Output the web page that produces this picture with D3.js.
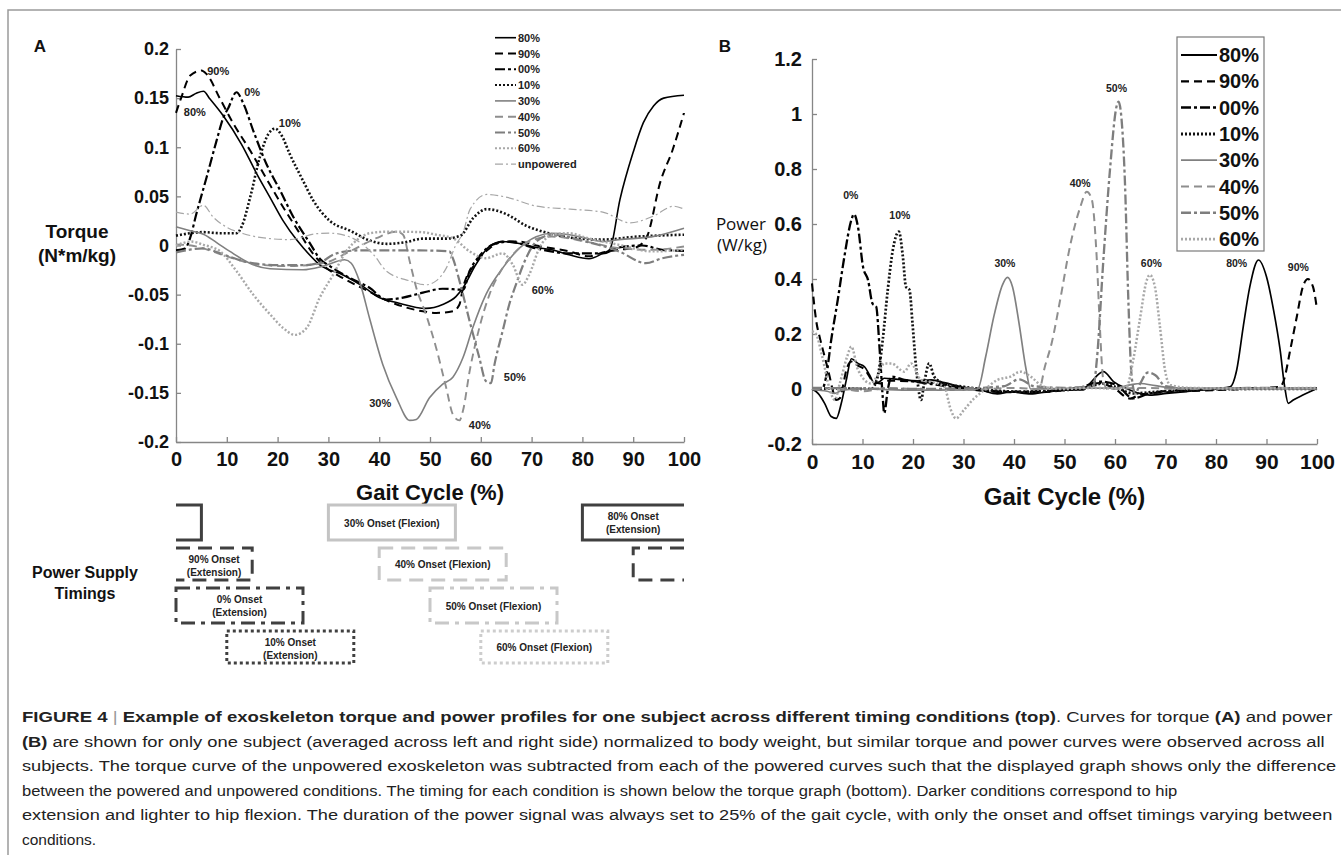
<!DOCTYPE html>
<html lang="en">
<head>
  <meta charset="UTF-8">
  <title>Figure 4</title>
  <script src="https://cdn.jsdelivr.net/npm/d3@7"></script>
  <style>
    body {
      margin: 0;
      background: #fff;
      overflow: hidden;
    }

    svg {
      font-family: "Liberation Sans", Arial, sans-serif;
    }

    .tick line, .domain {
      stroke: #868686;
      stroke-width: 1.3px;
    }

    .tick text {
      font-weight: bold;
      fill: #111;
    }
  </style>
</head>
<body>
<svg id="canvas" width="1341" height="855"></svg>
<script>
  // ---- panel A : torque (N*m/kg) vs gait cycle (%) ----
  let torque80 = [[0, 0.1525], [2.4, 0.151], [4, 0.155], [5.4, 0.157], [6.7, 0.149], [9.3, 0.132], [12.9, 0.103], [15.9, 0.073], [18.5, 0.049], [21.1, 0.025], [23.7, 0.006], [25, -0.002], [28.3, -0.0196], [32.9, -0.030], [36.8, -0.0416], [40, -0.053], [43.4, -0.058], [49.2, -0.064], [52.5, -0.060], [55.1, -0.052], [56.5, -0.043], [59, -0.0196], [61.7, -0.001], [64.3, 0.004], [67.6, 0.002], [70.9, -0.002], [74, -0.0044], [77.4, -0.0095], [81.3, -0.0135], [84, -0.008], [85.4, -0.004], [87.4, 0.047], [90, 0.095], [92, 0.125], [94, 0.142], [96, 0.15], [100, 0.153]];
  let torque90 = [[0, 0.135], [1, 0.15], [2.8, 0.173], [5, 0.178], [6, 0.1746], [8.7, 0.149], [11.3, 0.124], [14.6, 0.0966], [17.8, 0.068], [21.1, 0.039], [24.4, 0.012], [27, -0.0085], [28.9, -0.0196], [33.5, -0.035], [38.1, -0.047], [42, -0.057], [48.6, -0.067], [51.2, -0.0686], [54.5, -0.067], [55.8, -0.06], [56.5, -0.043], [59, -0.018], [61.7, -0.003], [64.3, 0.004], [67.6, 0.004], [70.9, 0], [77.4, -0.006], [81.3, -0.011], [84, -0.007], [87.2, -0.0044], [90.5, -0.002], [92.7, 0.009], [95.3, 0.064], [97.8, 0.098], [100, 0.135]];
  let torque00 = [[0, -0.005], [1.8, -0.003], [2.8, 0.008], [4, 0.032], [6, 0.069], [8, 0.107], [9.3, 0.13], [10.3, 0.14], [11.9, 0.156], [13.3, 0.144], [15.2, 0.117], [17.8, 0.083], [20.5, 0.056], [23.1, 0.029], [26.4, 0.002], [28.3, -0.0135], [30.3, -0.021], [34.2, -0.033], [38.1, -0.043], [41.4, -0.055], [44.7, -0.053], [48.6, -0.048], [52.5, -0.044], [56.5, -0.045], [57.8, -0.026], [59.7, -0.011], [62.3, 0.0007], [65.6, 0.004], [70.9, -0.003], [77.4, -0.008], [84, -0.008], [87.2, -0.002], [91.8, 0], [95.7, -0.0044], [100, -0.0054]];
  let torque10 = [[0, 0.010], [2.8, 0.0125], [5.4, 0.0136], [8.7, 0.0125], [11.9, 0.0125], [12.9, 0.019], [14.6, 0.049], [16.5, 0.09], [18.2, 0.1136], [19.5, 0.119], [20.8, 0.112], [22.4, 0.093], [25, 0.066], [27, 0.046], [30.3, 0.025], [34.3, 0.015], [38.2, 0.005], [41.5, 0.0017], [44.8, 0.003], [48.7, 0.007], [53, 0.007], [56, 0.01], [58.5, 0.028], [61.2, 0.037], [65, 0.032], [69, 0.02], [73, 0.013], [77.6, 0.008], [84, 0.006], [90.7, 0.009], [100, 0.011]];
  let torque30 = [[0, 0.019], [2.8, 0.015], [5.4, 0.0115], [8, 0.003], [10.6, -0.006], [15.2, -0.0196], [18.5, -0.0236], [25, -0.0247], [29, -0.021], [33.2, -0.0145], [34.5, -0.018], [36.1, -0.036], [38.1, -0.074], [40.7, -0.121], [43.4, -0.155], [46, -0.178], [47.3, -0.177], [49.9, -0.155], [52.5, -0.141], [54.5, -0.134], [56.5, -0.114], [58.4, -0.084], [61, -0.05], [64.3, -0.023], [67.6, -0.0027], [70.9, 0.009], [74, 0.0125], [77.4, 0.011], [80.7, 0.0074], [84, 0.004], [87.2, 0.006], [93.8, 0.009], [100, 0.0176]];
  let torque40 = [[0, 0.001], [3, 0], [6, -0.004], [10.6, -0.012], [16.5, -0.0196], [21.7, -0.021], [29, -0.018], [34.2, -0.006], [39.4, 0.0074], [43.4, 0.014], [44.7, 0.011], [46, -0.016], [47.3, -0.043], [49.2, -0.070], [51.2, -0.104], [53.2, -0.145], [54.5, -0.172], [55.8, -0.178], [56.5, -0.168], [57.8, -0.128], [59.7, -0.084], [61.7, -0.05], [64.3, -0.023], [66.9, -0.006], [69.5, 0.004], [74, 0.009], [80.7, 0.004], [87.2, -0.0027], [93.8, -0.0044], [100, -0.001]];
  let torque50 = [[0, -0.007], [3, -0.004], [5.4, -0.003], [8.7, -0.008], [12, -0.014], [15, -0.018], [20, -0.02], [25, -0.02], [28, -0.018], [31.6, -0.008], [36, -0.005], [42, -0.005], [48, -0.005], [53.8, -0.006], [54.5, -0.013], [55.8, -0.036], [57.8, -0.077], [59.7, -0.114], [61, -0.138], [62, -0.14], [62.7, -0.121], [64.3, -0.087], [65.6, -0.06], [66.9, -0.04], [68.9, -0.013], [70.9, 0.004], [74, 0.011], [80.7, 0.004], [87.2, -0.006], [92.5, -0.018], [95.7, -0.013], [100, -0.0095]];
  let torque60 = [[0, 0], [3, 0.004], [5.4, 0.0007], [8.7, -0.006], [11.9, -0.026], [15.2, -0.05], [18.5, -0.07], [21.1, -0.084], [23.4, -0.091], [25.7, -0.084], [28.3, -0.053], [30.9, -0.03], [33.5, -0.006], [36.1, 0.0074], [38.1, 0.0125], [41.4, 0.014], [44.7, 0.014], [48.6, 0.0135], [51.2, 0.011], [54.5, 0.0074], [57.8, -0.006], [61, -0.013], [64.3, -0.008], [66.3, -0.0196], [68.2, -0.04], [69.5, -0.03], [71.5, -0.003], [74, 0.011], [77.4, 0.0125], [80.7, 0.008], [87.2, 0.0007], [93.8, -0.006], [100, -0.0044]];
  let torqueUnpowered = [[0, 0.034], [2.8, 0.032], [5.4, 0.041], [7.3, 0.029], [10, 0.0186], [13.3, 0.012], [18.5, 0.007], [22.4, 0.006], [27.7, 0.012], [30.3, 0.0125], [34.3, 0.0085], [37, 0], [39, -0.01], [41.4, -0.026], [46, -0.036], [49.2, -0.04], [51.2, -0.036], [53.2, -0.023], [55.1, 0.0007], [56.5, 0.013], [57.9, 0.037], [61.2, 0.052], [65.2, 0.049], [71, 0.04], [77.6, 0.037], [84, 0.034], [89.4, 0.023], [94, 0.03], [98, 0.04], [100, 0.037]];

  // ---- panel B : power (W/kg) vs gait cycle (%) ----
  let power80 = [[0, 0], [1.2, -0.016], [2.5, -0.052], [3.8, -0.1], [4.8, -0.107], [5.8, -0.052], [6.8, 0.033], [7.8, 0.11], [9.1, 0.093], [10.4, 0.081], [11.4, 0.051], [12.4, 0.02], [13.4, 0.027], [14.3, 0.039], [17, 0.035], [20.9, 0.03], [23.6, 0.033], [26.2, 0.023], [30.1, 0.006], [33.4, -0.004], [36.7, -0.018], [39.3, -0.01], [43.3, -0.018], [46.6, -0.01], [50, -0.004], [53.7, -0.003], [55, 0.02], [57.7, 0.063], [59.7, 0.027], [62.3, 0.002], [64.9, -0.016], [66.9, -0.022], [70.2, -0.016], [76.8, -0.004], [82.8, 0.008], [84.1, 0.069], [85.4, 0.227], [86.7, 0.372], [88.4, 0.469], [90, 0.408], [91.4, 0.287], [92.7, 0.142], [93.6, 0.008], [94.3, -0.052], [95.3, -0.04], [97.2, -0.022], [100, 0.002]];
  let power90 = [[0, 0.384], [0.9, 0.24], [1.5, 0.19], [2.5, 0.118], [3.5, 0.045], [4.1, -0.004], [4.8, -0.04], [5.5, -0.034], [6.1, 0.008], [6.8, 0.069], [7.8, 0.1], [9.1, 0.085], [10.5, 0.07], [12, 0.03], [13.5, 0.02], [15, 0.03], [20, 0.028], [25, 0.02], [30, 0.004], [35, -0.006], [40, -0.012], [45, -0.012], [50, -0.004], [54, 0.005], [57, 0.022], [60, 0], [63, -0.035], [65, -0.02], [70, -0.012], [80, -0.004], [90, 0.004], [92.7, 0.008], [93.4, 0.03], [94.7, 0.142], [96, 0.263], [97.2, 0.372], [98.2, 0.40], [99.2, 0.372], [100, 0.29]];
  let power00 = [[0, 0], [2, 0], [2.8, 0.045], [3.8, 0.178], [5.1, 0.324], [6.4, 0.48], [7.8, 0.615], [8.3, 0.636], [9.1, 0.59], [10.1, 0.445], [11.1, 0.396], [12, 0.31], [12.7, 0.3], [13.4, 0.142], [14, -0.028], [14.3, -0.088], [15, -0.004], [15.7, 0.045], [18.3, 0.033], [21, 0.025], [24.9, 0.015], [30, 0.002], [36.7, -0.01], [44.6, -0.01], [50, -0.002], [53.7, 0.008], [57, 0.027], [60.3, 0.015], [63.6, -0.034], [66.9, -0.016], [73.5, -0.004], [86.7, 0.002], [100, 0.002]];
  let power10 = [[0, 0], [5, 0.002], [11.7, 0], [13, 0.045], [14, 0.178], [15, 0.36], [16, 0.505], [17.2, 0.572], [18, 0.48], [18.6, 0.372], [19.3, 0.36], [19.9, 0.239], [20.6, 0.081], [21.6, -0.04], [22.2, 0.02], [23.2, 0.093], [24.2, 0.045], [26.2, 0.02], [30.1, 0.008], [35.4, -0.004], [41.3, -0.01], [48, -0.006], [53.7, 0.002], [57.7, 0.02], [60, 0.008], [63.6, -0.016], [68.2, -0.01], [75, -0.004], [85, 0], [100, 0]];
  let power30 = [[0, -0.002], [3, -0.008], [4.5, -0.016], [6, -0.004], [10, 0], [20, -0.004], [30, -0.004], [32.8, 0], [34.4, 0.118], [36, 0.263], [37.7, 0.378], [38.7, 0.406], [39.7, 0.372], [41, 0.239], [42.3, 0.081], [43.3, 0], [50, 0.002], [60, 0.004], [63, 0.015], [65, 0.02], [68, 0.012], [72, 0.004], [80, 0.002], [90, 0], [100, 0]];
  let power40 = [[0, 0], [5, 0.002], [10, -0.008], [15, 0.004], [20, 0], [30, -0.004], [40, 0.004], [45, 0], [46.1, 0.08], [47.5, 0.17], [49.1, 0.32], [51.1, 0.52], [53.1, 0.66], [54.4, 0.717], [55.4, 0.69], [56.4, 0.47], [57, 0.227], [57.7, 0.03], [58.5, 0], [65, 0.004], [75, 0], [90, 0.004], [100, 0.002]];
  let power50 = [[0, 0.004], [10, 0.002], [20, 0], [30, 0.002], [38, 0.01], [41, 0.035], [44, 0.01], [50, 0.004], [55, 0.008], [55.7, 0.008], [56.4, 0.105], [57.7, 0.47], [59, 0.796], [60.3, 1.027], [60.7, 1.045], [61.2, 1.0], [62, 0.736], [62.6, 0.348], [63.3, 0.045], [64, -0.016], [65, 0.02], [66.5, 0.06], [68, 0.05], [70, 0.01], [75, 0.002], [90, 0.004], [100, 0.002]];
  let power60 = [[0, 0.21], [0.8, 0.2], [2, 0.12], [3.5, 0], [4.5, -0.04], [5.5, 0.02], [7, 0.12], [7.8, 0.154], [9.1, 0.07], [11.7, 0.02], [13, 0.05], [14.3, 0.093], [15.7, 0.093], [18.3, 0.063], [19.6, 0.093], [21.6, 0.033], [24.9, 0.02], [26.2, 0.008], [27.5, -0.076], [28.5, -0.107], [30.1, -0.076], [32.1, -0.034], [34.1, -0.004], [36.7, 0.033], [39.3, 0.045], [41.3, 0.063], [43.3, 0.045], [45.9, 0.008], [50, 0], [55, 0.004], [60, 0.002], [62.3, 0.008], [63.6, 0.105], [64.9, 0.25], [66.3, 0.396], [66.9, 0.415], [67.9, 0.372], [68.9, 0.227], [69.9, 0.069], [70.9, 0.015], [75, 0.004], [85, 0.002], [100, 0.004]];

  let legendNamesA = ["80%", "90%", "00%", "10%", "30%", "40%", "50%", "60%", "unpowered"];
  let legendNamesB = ["80%", "90%", "00%", "10%", "30%", "40%", "50%", "60%"];

  // labels written on the curves: [gait %, value, text]
  let peakLabelsA = [[8.3, 0.177, "90%"], [3.7, 0.136, "80%"], [15, 0.156, "0%"], [22.4, 0.125, "10%"], [72.2, -0.045, "60%"], [66.7, -0.134, "50%"], [40.2, -0.16, "30%"], [59.8, -0.183, "40%"]];
  let peakLabelsB = [[7.7, 0.705, "0%"], [17.4, 0.633, "10%"], [38.2, 0.458, "30%"], [53.1, 0.749, "40%"], [60.3, 1.095, "50%"], [67.2, 0.458, "60%"], [84.1, 0.458, "80%"], [96.3, 0.444, "90%"]];

  let torqueTicks = [-0.2, -0.15, -0.1, -0.05, 0, 0.05, 0.1, 0.15, 0.2];
  let powerTicks = [-0.2, 0, 0.2, 0.4, 0.6, 0.8, 1, 1.2];
  let gaitTicks = [0, 10, 20, 30, 40, 50, 60, 70, 80, 90, 100];

  // power supply timing bars below panel A
  let timingOnsets = [80, 30, 90, 40, 0, 50, 10, 60];
  let timingRows = [0, 0, 1, 1, 2, 2, 3, 3];
  let timingLabels = [["80% Onset", "(Extension)"], ["30% Onset (Flexion)"], ["90% Onset", "(Extension)"], ["40% Onset (Flexion)"],
    ["0% Onset", "(Extension)"], ["50% Onset (Flexion)"], ["10% Onset", "(Extension)"], ["60% Onset (Flexion)"]];
  let timingDuration = 25;

  let caption = [
    [["FIGURE 4", "b"], [" | ", "bar"], ["Example of exoskeleton torque and power profiles for one subject across different timing conditions (top)", "b"], [". Curves for torque ", ""], ["(A)", "b"], [" and power", ""]],
    [["(B)", "b"], [" are shown for only one subject (averaged across left and right side) normalized to body weight, but similar torque and power curves were observed across all", ""]],
    [["subjects. The torque curve of the unpowered exoskeleton was subtracted from each of the powered curves such that the displayed graph shows only the difference", ""]],
    [["between the powered and unpowered conditions. The timing for each condition is shown below the torque graph (bottom). Darker conditions correspond to hip", ""]],
    [["extension and lighter to hip flexion. The duration of the power signal was always set to 25% of the gait cycle, with only the onset and offset timings varying between", ""]],
    [["conditions.", ""]]
  ];
  let captionEnds = [1333, 1325, 1338, 1178, 1333, null];

  // line styles, same order as the legends
  let styles = [
    {stroke: "#000", width: 1.6, dash: null},
    {stroke: "#000", width: 2, dash: "8,5"},
    {stroke: "#000", width: 2.2, dash: "10,3,3,3"},
    {stroke: "#111", width: 2.6, dash: "2,2"},
    {stroke: "#808080", width: 1.6, dash: null},
    {stroke: "#8e8e8e", width: 1.9, dash: "8,5"},
    {stroke: "#7e7e7e", width: 2.2, dash: "10,3,3,3"},
    {stroke: "#a8a8a8", width: 2.4, dash: "2,2"},
    {stroke: "#a6a6a6", width: 1.2, dash: "8,3,2,3"}
  ];

  let svg = d3.select("#canvas");

  // figure frame (top and left edges)
  svg.append("path").attr("d", "M8,855 V10 H1341").attr("fill", "none").attr("stroke", "#9a9a9a").attr("stroke-width", 1.5);

  let xA = d3.scaleLinear([0, 100], [176, 684]);
  let yA = d3.scaleLinear([-0.2, 0.2], [442, 49]);
  let xB = d3.scaleLinear([0, 100], [812, 1317]);
  let yB = d3.scaleLinear([-0.2, 1.2], [444, 59]);

  function drawAxes(x, y, yTicks, yFont, xFont, yPad) {
    svg.append("g").attr("transform", `translate(0,${y.range()[0]})`)
        .call(d3.axisBottom(x).tickValues(gaitTicks).tickSize(-5).tickSizeOuter(0).tickPadding(10))
        .selectAll("text").style("font-size", xFont + "px");
    svg.append("g").attr("transform", `translate(${x.range()[0]},0)`)
        .call(d3.axisLeft(y).tickValues(yTicks).tickSize(-5).tickSizeOuter(0).tickPadding(yPad).tickFormat(d => String(d)))
        .selectAll("text").style("font-size", yFont + "px");
  }

  drawAxes(xA, yA, torqueTicks, 18, 20, 7);
  drawAxes(xB, yB, powerTicks, 20, 21, 10);

  function drawCurves(series, x, y, widthScale) {
    let line = d3.line().x(d => x(d[0])).y(d => y(d[1])).curve(d3.curveMonotoneX);
    series.forEach((s, i) => {
      let st = styles[i];
      svg.append("path")
          .attr("d", line(s))
          .attr("fill", "none")
          .attr("stroke", st.stroke)
          .attr("stroke-width", st.width * widthScale)
          .attr("stroke-dasharray", st.dash);
    });
  }

  let torqueSeries = [torque80, torque90, torque00, torque10, torque30, torque40, torque50, torque60, torqueUnpowered];
  let powerSeries = [power80, power90, power00, power10, power30, power40, power50, power60];
  drawCurves(torqueSeries, xA, yA, 1);
  drawCurves(powerSeries, xB, yB, 1.05);

  function drawPeakLabels(labels, x, y, size) {
    svg.append("g").selectAll("text").data(labels).join("text")
        .attr("x", d => x(d[0]))
        .attr("y", d => y(d[1]))
        .attr("text-anchor", "middle")
        .attr("dy", "0.35em")
        .style("font-size", size + "px")
        .style("font-weight", "bold")
        .attr("fill", "#222")
        .text(d => d[2]);
  }

  drawPeakLabels(peakLabelsA, xA, yA, 11);
  drawPeakLabels(peakLabelsB, xB, yB, 10.5);

  // legend A (no box)
  let legA = svg.append("g");
  legendNamesA.forEach((name, i) => {
    let st = styles[i], yy = 37.7 + i * 15.8;
    legA.append("line").attr("x1", 495).attr("x2", 516).attr("y1", yy).attr("y2", yy)
        .attr("stroke", st.stroke).attr("stroke-width", Math.min(st.width, 2)).attr("stroke-dasharray", st.dash);
    legA.append("text").attr("x", 518).attr("y", yy + 4).style("font-size", "11px").style("font-weight", "bold")
        .attr("fill", "#222").text(name);
  });

  // legend B (boxed)
  let legB = svg.append("g");
  legB.append("rect").attr("x", 1177).attr("y", 37).attr("width", 87).attr("height", 214)
      .attr("fill", "#fff").attr("stroke", "#7a7a7a").attr("stroke-width", 1.2);
  legendNamesB.forEach((name, i) => {
    let st = styles[i], yy = 55 + i * 26.3;
    legB.append("line").attr("x1", 1181).attr("x2", 1217).attr("y1", yy).attr("y2", yy)
        .attr("stroke", st.stroke).attr("stroke-width", st.width * 1.15).attr("stroke-dasharray", st.dash);
    legB.append("text").attr("x", 1219).attr("y", yy + 7).style("font-size", "20px").style("font-weight", "bold")
        .attr("fill", "#111").text(name);
  });

  // axis titles and panel letters
  function label(x, y, txt, size, weight, anchor, family) {
    svg.append("text").attr("x", x).attr("y", y).attr("text-anchor", anchor || "middle")
        .style("font-size", size + "px").style("font-weight", weight).style("font-family", family || null)
        .attr("fill", "#111").text(txt);
  }

  label(40, 52, "A", 17, "bold", "middle");
  label(725, 52, "B", 17, "bold", "middle");
  label(77, 238, "Torque", 19, "bold");
  label(77, 262, "(N*m/kg)", 19, "bold");
  label(766, 230, "Power", 17, "normal", "end", "'Open Sans', sans-serif");
  label(767, 251, "(W/kg)", 17, "normal", "end", "'Open Sans', sans-serif");
  label(xA(50), 500, "Gait Cycle (%)", 22, "bold");
  label(xB(50), 505, "Gait Cycle (%)", 24, "bold");
  label(85, 578, "Power Supply", 16, "bold");
  label(85, 599, "Timings", 16, "bold");

  // timing boxes
  let rowTops = [505, 548, 588, 631], rowHeight = [35, 32, 35, 32];
  let boxDash = [null, null, "14,8", "14,8", "14,6,4,6", "14,6,4,6", "3,3", "3,3"];
  let boxColor = ["#404040", "#c4c4c4", "#404040", "#c8c8c8", "#404040", "#c8c8c8", "#404040", "#cdcdcd"];
  let tg = svg.append("g");
  timingOnsets.forEach((on, i) => {
    let top = rowTops[timingRows[i]], bot = top + rowHeight[timingRows[i]];
    let off = on + timingDuration, d, cx;
    if (off <= 100) {
      d = `M${xA(on)},${top} H${xA(off)} V${bot} H${xA(on)} Z`;
      cx = xA((on + off) / 2);
    } else {
      d = `M${xA(100)},${top} H${xA(on)} V${bot} H${xA(100)} M${xA(0)},${top} H${xA(off - 100)} V${bot} H${xA(0)}`;
      cx = (100 - on) >= (off - 100) ? xA((on + 100) / 2) : xA((off - 100) / 2);
    }
    tg.append("path").attr("d", d).attr("fill", "none").attr("stroke", boxColor[i])
        .attr("stroke-width", 3).attr("stroke-dasharray", boxDash[i]);
    let lines = timingLabels[i];
    lines.forEach((t, j) => {
      let yy = lines.length === 1 ? (top + bot) / 2 + 4 : top + 14.5 + j * 13.5;
      tg.append("text").attr("x", cx).attr("y", yy).attr("text-anchor", "middle")
          .style("font-size", "10px").style("font-weight", "bold").attr("fill", "#222").text(t);
    });
  });

  // caption: full lines stretched horizontally to their width in the figure
  caption.forEach((segs, i) => {
    let t = svg.append("text").attr("x", 22).attr("y", 722 + i * 24.6)
        .style("font-size", "15.5px").attr("fill", "#222");
    segs.forEach(s => {
      let ts = t.append("tspan").text(s[0]);
      if (s[1] === "b") ts.style("font-weight", "bold");
      if (s[1] === "bar") ts.attr("fill", "#999").style("font-weight", "normal");
    });
    if (captionEnds[i]) {
      let w = t.node().getComputedTextLength();
      let k = (captionEnds[i] - 22) / w;
      t.attr("transform", `translate(22,0) scale(${k},1) translate(-22,0)`);
    }
  });
</script>
</body>
</html>
